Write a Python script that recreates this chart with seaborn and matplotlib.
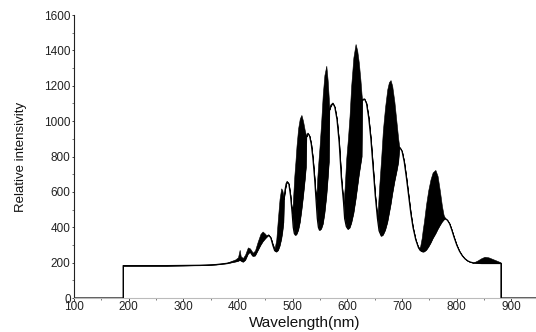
import numpy as np
import pandas as pd
import matplotlib
matplotlib.use("Agg")
import matplotlib.pyplot as plt
import seaborn as sns
from matplotlib.ticker import MultipleLocator

# ---- data ----
wavelength = [100, 190, 190, 230, 270, 300, 330, 360, 380, 390, 395, 400, 403, 405, 409, 413, 418, 422, 427, 431,
              436, 441, 445, 449, 452, 456, 460, 464, 467, 470, 473, 476, 479, 481, 483, 484, 486, 488, 490, 493,
              496, 499, 501, 503, 505, 507, 510, 513, 516, 519, 522, 524, 525, 528, 531, 534, 537, 540, 543, 545,
              547, 549, 552, 555, 558, 561.5, 564, 566, 567, 570, 573.6, 577, 581, 585, 589, 593, 595, 598, 601, 604,
              607, 611, 615, 618, 621, 624, 626, 627, 629, 631.5, 635, 639, 643, 647, 651, 655, 658, 662, 665, 669,
              673, 676, 679, 682, 686, 690, 693, 695, 697, 700, 704, 708, 712, 716, 720, 725, 730, 733, 736, 738,
              740, 744, 748, 752, 756, 761, 765, 769, 773, 776, 779, 783, 787, 791, 795, 800, 805, 810, 815, 820,
              825, 830, 838, 845, 851, 858, 866, 874, 880, 881, 881, 945]

# thin (smooth) trace
intensity = [0, 0, 183, 183, 183, 184, 185, 189, 196, 203, 206, 210, 215, 212, 205, 215, 250, 262, 238, 240,
             270, 300, 320, 335, 345, 356, 340, 295, 268, 262, 270, 295, 335, 375, 430, 560, 610, 645, 658, 645,
             580, 480, 400, 365, 356, 362, 385, 430, 500, 580, 670, 740, 912, 931, 915, 870, 790, 680, 540, 450,
             400, 384, 392, 420, 480, 580, 680, 770, 1063, 1090, 1101, 1080, 1010, 880, 680, 540, 450, 405, 390, 398,
             425, 480, 560, 630, 700, 760, 800, 1120, 1123, 1125, 1100, 1020, 900, 740, 580, 450, 380, 351, 358, 385,
             430, 480, 530, 590, 660, 720, 770, 853, 846, 830, 770, 680, 580, 480, 400, 330, 285, 270, 264, 262,
             263, 272, 290, 312, 338, 365, 390, 412, 432, 443, 450, 440, 420, 385, 345, 300, 265, 240, 222, 210,
             203, 199, 197, 196, 196, 196, 196, 196, 196, 196, 0, 0]

# upper envelope of the dense oscillation (black filled lobes)
upper = [0, 0, 183, 183, 183, 184, 186, 191, 200, 212, 218, 230, 272, 236, 226, 245, 286, 280, 256, 268,
         318, 362, 376, 365, 354, 358, 342, 302, 282, 330, 450, 560, 620, 610, 580, 560, 610, 645, 658, 645,
         580, 480, 580, 690, 770, 860, 960, 1015, 1035, 1000, 950, 925, 912, 931, 915, 870, 790, 680, 560, 680,
         770, 850, 990, 1150, 1260, 1313, 1230, 1130, 1063, 1090, 1101, 1080, 1010, 880, 680, 540, 620, 790, 900, 1030,
         1200, 1360, 1436, 1400, 1330, 1230, 1150, 1120, 1123, 1125, 1100, 1020, 900, 740, 580, 460, 620, 800, 950, 1080,
         1180, 1220, 1232, 1200, 1110, 990, 900, 853, 846, 830, 770, 680, 580, 480, 400, 330, 285, 290, 340, 390,
         430, 530, 610, 670, 710, 724, 690, 610, 520, 470, 450, 440, 420, 385, 345, 300, 265, 240, 222, 210,
         203, 200, 212, 225, 233, 230, 220, 210, 202, 196, 0, 0]

x_ticks = [100, 200, 300, 400, 500, 600, 700, 800, 900]
y_ticks = [0, 200, 400, 600, 800, 1000, 1200, 1400, 1600]

df = pd.DataFrame({"wavelength": wavelength, "intensity": intensity, "upper": upper})

sns.set_theme(style="ticks")
plt.rcParams["font.family"] = ["Liberation Sans", "DejaVu Sans"]

fig = plt.figure(figsize=(5.36, 3.32), dpi=100)
ax = fig.add_axes([0.138, 0.1024, 0.862, 0.8524])

ax.fill_between(df["wavelength"], df["intensity"], df["upper"],
                where=df["upper"] >= df["intensity"], color="black", linewidth=0.4,
                edgecolor="black", interpolate=True)
sns.lineplot(data=df, x="wavelength", y="intensity", ax=ax, color="black",
             linewidth=0.9, estimator=None, sort=False)

ax.set_xlim(100, 945)
ax.set_ylim(0, 1600)
ax.set_xticks(x_ticks)
ax.set_yticks(y_ticks)
ax.xaxis.set_minor_locator(MultipleLocator(50))
ax.yaxis.set_minor_locator(MultipleLocator(100))
ax.tick_params(axis="both", which="major", length=1.8, width=0.6, pad=0.6,
               labelsize=8.5, colors="#222222", direction="out")
ax.tick_params(axis="both", which="minor", length=1.2, width=0.5, colors="#444444", direction="out")

for side in ["top", "right"]:
    ax.spines[side].set_visible(False)
ax.spines["left"].set_color("#222222")
ax.spines["left"].set_linewidth(0.8)
ax.spines["bottom"].set_color("#bbbbbb")
ax.spines["bottom"].set_linewidth(0.8)

ax.set_xlabel("Wavelength(nm)", fontsize=11, labelpad=2, color="#111111")
ax.set_ylabel("Relative intensivity", fontsize=9.5, labelpad=12, color="#111111")

fig.savefig("out.png", dpi=100, facecolor="white")
